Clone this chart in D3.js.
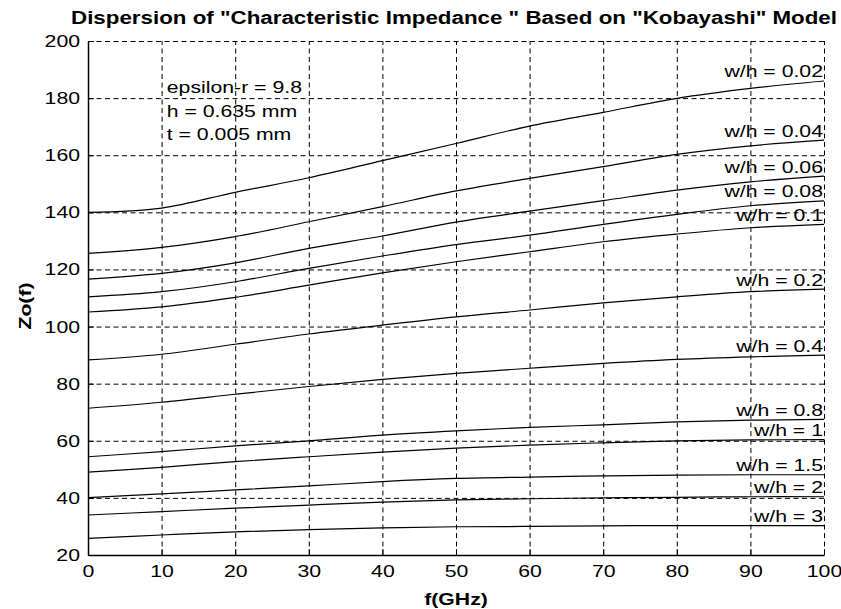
<!DOCTYPE html>
<html>
<head>
<meta charset="utf-8">
<script src="https://cdn.jsdelivr.net/npm/d3@7"></script>
<style>
  body { margin: 0; background: #fff; }
  text { font-family: "Liberation Sans", Arial, sans-serif; }
</style>
</head>
<body>
<div id="container"></div>
<script>
// frequency points (GHz)
const freq = [0, 10, 20, 30, 40, 50, 60, 70, 80, 90, 100];

// Zo(f) for each w/h
const z002 = [140.0, 141.5, 147.0, 152.1, 158.1, 164.1, 170.2, 175.0, 179.9, 183.4, 186.0];
const z004 = [125.6, 127.7, 131.5, 136.7, 142.0, 147.5, 151.9, 156.0, 160.3, 163.3, 165.3];
const z006 = [116.6, 118.6, 122.3, 127.4, 131.7, 136.6, 140.4, 144.1, 147.8, 150.7, 152.7];
const z008 = [110.4, 112.2, 115.7, 120.4, 124.7, 128.7, 132.0, 135.8, 139.3, 142.3, 144.0];
const z01  = [105.1, 106.9, 110.2, 114.5, 118.8, 122.7, 126.2, 129.7, 132.4, 134.6, 135.8];
const z02  = [88.3, 90.3, 93.8, 97.4, 100.5, 103.4, 105.8, 108.3, 110.4, 112.2, 113.1];
const z04  = [71.4, 73.5, 76.3, 79.0, 81.5, 83.6, 85.4, 87.1, 88.5, 89.4, 90.0];
const z08  = [54.4, 56.2, 58.2, 60.0, 62.0, 63.5, 64.7, 65.6, 66.6, 67.2, 67.5];
const z1   = [49.0, 50.7, 52.7, 54.4, 56.0, 57.4, 58.5, 59.3, 60.0, 60.3, 60.4];
const z15  = [40.1, 41.4, 42.8, 44.2, 45.7, 46.8, 47.3, 47.7, 48.0, 48.1, 48.1];
const z2   = [34.0, 35.2, 36.4, 37.5, 38.5, 39.3, 39.7, 40.0, 40.2, 40.4, 40.4];
const z3   = [25.8, 27.0, 28.1, 28.9, 29.5, 29.9, 30.0, 30.2, 30.3, 30.3, 30.3];

const ratios = ["0.02", "0.04", "0.06", "0.08", "0.1", "0.2", "0.4", "0.8", "1", "1.5", "2", "3"];
const curves = [z002, z004, z006, z008, z01, z02, z04, z08, z1, z15, z2, z3];

const xTicks = [0, 10, 20, 30, 40, 50, 60, 70, 80, 90, 100];
const yTicks = [20, 40, 60, 80, 100, 120, 140, 160, 180, 200];

const notes = ["epsilon-r = 9.8", "h = 0.635 mm", "t = 0.005 mm"];
const noteF = 10.7;
const noteZ = [181.9, 173.5, 165.3];

const titleText = 'Dispersion of "Characteristic Impedance " Based on "Kobayashi" Model';

const W = 841, H = 609;
const pLeft = 88, pRight = 824, pTop = 41, pBottom = 555;
const stretch = "scale(1.25,1)";

var svg = d3.select("#container")
    .append("svg")
    .attr("width", W)
    .attr("height", H);

svg.append("rect").attr("width", W).attr("height", H).attr("fill", "#fff");

let x = d3.scaleLinear().domain([0, 100]).range([pLeft, pRight]);
let y = d3.scaleLinear().domain([20, 200]).range([pBottom, pTop]);

// dashed grid
svg.append("g")
    .attr("transform", `translate(0,${pBottom})`)
    .call(d3.axisBottom(x).tickValues(xTicks).tickSize(-(pBottom - pTop)).tickFormat(""))
    .call(g => g.select(".domain").remove())
    .selectAll("line")
    .attr("stroke", "#000")
    .attr("stroke-dasharray", "5,3.5");

svg.append("g")
    .attr("transform", `translate(${pLeft},0)`)
    .call(d3.axisLeft(y).tickValues(yTicks).tickSize(-(pRight - pLeft)).tickFormat(""))
    .call(g => g.select(".domain").remove())
    .selectAll("line")
    .attr("stroke", "#000")
    .attr("stroke-dasharray", "5,3.5");

// curves
let line = d3.line()
    .x((d, i) => x(freq[i]))
    .y(d => y(d))
    .curve(d3.curveCatmullRom.alpha(0.5));

svg.append("g")
    .selectAll("path")
    .data(curves)
    .enter()
    .append("path")
    .attr("d", d => line(d))
    .attr("fill", "none")
    .attr("stroke", "#000")
    .attr("stroke-width", 1.2);

// curve labels, right aligned at f = 100
svg.append("g")
    .selectAll("text")
    .data(curves)
    .enter()
    .append("text")
    .attr("transform", d => `translate(${x(100) - 1},${y(d[d.length - 1]) - 3.5}) ${stretch}`)
    .attr("text-anchor", "end")
    .attr("font-size", 17)
    .text((d, i) => "w/h = " + ratios[i]);

// parameter notes
svg.append("g")
    .selectAll("text")
    .data(notes)
    .enter()
    .append("text")
    .attr("transform", (d, i) => `translate(${x(noteF)},${y(noteZ[i])}) ${stretch}`)
    .attr("font-size", 17)
    .text(d => d);

// axes
let gx = svg.append("g")
    .attr("transform", `translate(0,${pBottom})`)
    .call(d3.axisBottom(x).tickValues(xTicks).tickSize(-6).tickPadding(10).tickSizeOuter(0));
gx.select(".domain").attr("stroke-width", 1.5);
gx.selectAll("text")
    .attr("font-size", 17)
    .attr("font-family", "Liberation Sans, Arial, sans-serif")
    .attr("transform", stretch);

let gy = svg.append("g")
    .attr("transform", `translate(${pLeft},0)`)
    .call(d3.axisLeft(y).tickValues(yTicks).tickSize(-6).tickPadding(6.4).tickSizeOuter(0));
gy.select(".domain").attr("stroke-width", 1.5);
gy.selectAll("text")
    .attr("font-size", 17)
    .attr("font-family", "Liberation Sans, Arial, sans-serif")
    .attr("transform", stretch);

// titles
svg.append("text")
    .attr("x", 71)
    .attr("y", 24)
    .attr("font-size", 18)
    .attr("font-weight", "bold")
    .attr("textLength", 766)
    .attr("lengthAdjust", "spacingAndGlyphs")
    .text(titleText);

svg.append("text")
    .attr("transform", `translate(${(pLeft + pRight) / 2},605) ${stretch}`)
    .attr("text-anchor", "middle")
    .attr("font-size", 17)
    .attr("font-weight", "bold")
    .text("f(GHz)");

svg.append("text")
    .attr("transform", `translate(31,${(pTop + pBottom) / 2 + 8}) rotate(-90) ${stretch}`)
    .attr("text-anchor", "middle")
    .attr("font-size", 17)
    .attr("font-weight", "bold")
    .text("Zo(f)");
</script>
</body>
</html>
